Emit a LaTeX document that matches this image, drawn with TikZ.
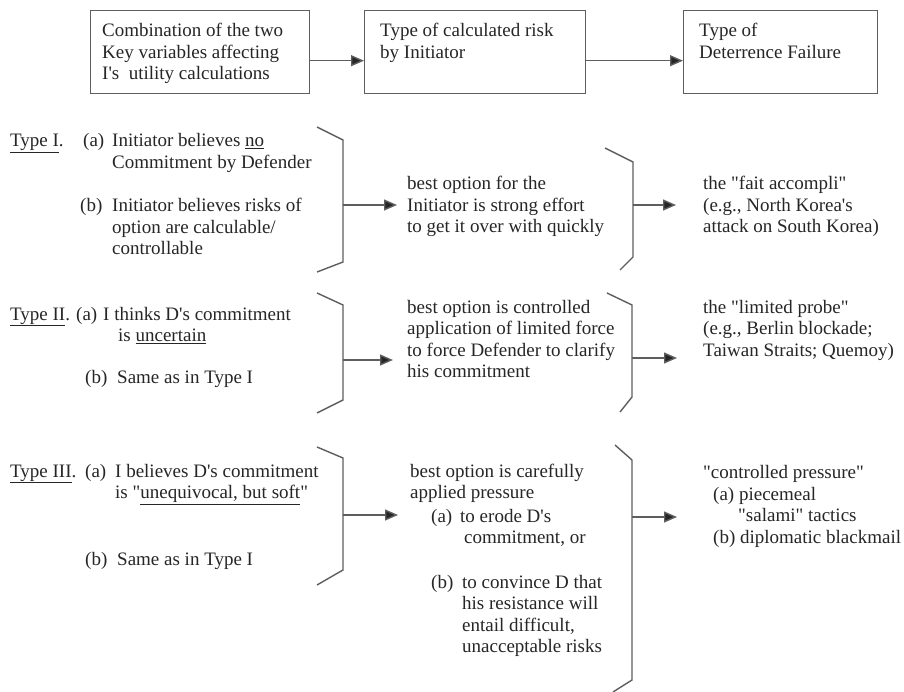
\documentclass[tikz,border=0pt]{standalone}
\usepackage{fontspec}
\setmainfont{Liberation Serif}
\usetikzlibrary{arrows.meta}
\definecolor{ink}{HTML}{262626}
\definecolor{rule}{HTML}{5E5E5E}
\newcommand{\ml}[1]{\begin{tabular}[t]{@{}l@{}}#1\end{tabular}}
\newcommand{\dq}{\textquotedbl}
\newcommand{\ap}{\textquotesingle}
\tikzset{
  txt/.style={anchor=base west, inner sep=0pt, text=ink,
    font=\fontsize{19}{21.5}\selectfont},
  headbox/.style={draw=rule, line width=1.4pt, inner sep=0pt},
  brk/.style={draw=rule, line width=1.4pt},
  flow/.style={draw=rule, line width=1.4pt,
    -{Triangle[length=13pt,width=11pt,fill=ink]}}
}
\begin{document}
\begin{tikzpicture}[x=1pt,y=-1pt]
\path[use as bounding box, fill=white] (0,0) rectangle (904,692);

% header boxes
\node[headbox, minimum width=219pt, minimum height=83pt, anchor=north west] (b1) at (90,10) {};
\node[headbox, minimum width=221pt, minimum height=83pt, anchor=north west] (b2) at (364,10) {};
\node[headbox, minimum width=194pt, minimum height=83pt, anchor=north west] (b3) at (683,10) {};
\node[txt] (h1) at (102,37) {\ml{Combination of the two\\Key variables affecting\\I\ap s\ \ utility calculations}};
\node[txt] (h2) at (380,37) {\ml{Type of calculated risk\\by Initiator}};
\node[txt] (h3) at (699,37) {\ml{Type of\\Deterrence Failure}};
\draw[flow] ([yshift=-8.5pt]b1.east) -- ([yshift=-8.5pt]b2.west);
\draw[flow] ([yshift=-8.5pt]b2.east) -- ([yshift=-8.5pt]b3.west);

% Type I
\node[txt] (t1) at (10,147) {\underline{Type I}.};
\node[txt] (t1a) at (83,147) {(a)};
\node[txt] (t1at) at (112,147) {\ml{Initiator believes \underline{no}\\Commitment by Defender}};
\node[txt] (t1b) at (80,212) {(b)};
\node[txt] (t1bt) at (112,212) {\ml{Initiator believes risks of\\option are calculable/\\controllable}};
\node[txt] (m1) at (407,190) {\ml{best option for the\\Initiator is strong effort\\to get it over with quickly}};
\node[txt] (r1) at (703,190) {\ml{the \dq fait accompli\dq\\(e.g., North Korea\ap s\\attack on South Korea)}};
\draw[brk] (317,127) -- (343,140) -- (343,262) -- (317,272);
\draw[brk] (605,148) -- (633,162) -- (633,257) -- (620,270);
\coordinate (s1l) at (343,205); \coordinate (e1l) at (397,205);
\coordinate (s1r) at (633,205); \coordinate (e1r) at (676,205);
\draw[flow] (s1l) -- (e1l);
\draw[flow] (s1r) -- (e1r);

% Type II
\node[txt] (t2) at (10,320) {\underline{Type II}.};
\node[txt] (t2a) at (76,320) {(a)};
\node[txt] (t2at) at (103,320) {\ml{I thinks D\ap s commitment\\\hspace*{15pt}is \underline{uncertain}}};
\node[txt] (t2b) at (85,383) {(b)};
\node[txt] (t2bt) at (117,383) {Same as in Type I};
\node[txt] (m2) at (407,313) {\ml{best option is controlled\\application of limited force\\to force Defender to clarify\\his commitment}};
\node[txt] (r2) at (703,313) {\ml{the \dq limited probe\dq\\(e.g., Berlin blockade;\\Taiwan Straits; Quemoy)}};
\draw[brk] (317,293) -- (343,305) -- (343,400) -- (317,413);
\draw[brk] (607,293) -- (632,305) -- (632,397) -- (620,412);
\coordinate (s2l) at (343,360); \coordinate (e2l) at (393,360);
\coordinate (s2r) at (632,358); \coordinate (e2r) at (677,358);
\draw[flow] (s2l) -- (e2l);
\draw[flow] (s2r) -- (e2r);

% Type III
\node[txt] (t3) at (10,477) {\underline{Type III}.};
\node[txt] (t3a) at (85,477) {(a)};
\node[txt] (t3at) at (115,477) {\ml{I believes D\ap s commitment\\is \dq\underline{unequivocal, but soft}\dq}};
\node[txt] (t3b) at (85,565) {(b)};
\node[txt] (t3bt) at (117,565) {Same as in Type I};
\node[txt] (m3) at (410,477) {\ml{best option is carefully\\applied pressure}};
\node[txt] (m3a) at (431,522) {(a)};
\node[txt] (m3at) at (460,522) {\ml{to erode D\ap s\\\hspace*{4pt}commitment, or}};
\node[txt] (m3b) at (431,588) {(b)};
\node[txt] (m3bt) at (462,588) {\ml{to convince D that\\his resistance will\\entail difficult,\\unacceptable risks}};
\node[txt] (r3) at (703,478) {\dq controlled pressure\dq};
\node[txt] (r3a) at (713,500) {\ml{(a) piecemeal\\\hspace*{25pt}\dq salami\dq\ tactics\\(b) diplomatic blackmail}};
\draw[brk] (317,447) -- (343,458) -- (343,570) -- (317,585);
\draw[brk] (615,445) -- (632,460) -- (632,680) -- (613,692);
\coordinate (s3l) at (343,515); \coordinate (e3l) at (398,515);
\coordinate (s3r) at (632,517); \coordinate (e3r) at (677,517);
\draw[flow] (s3l) -- (e3l);
\draw[flow] (s3r) -- (e3r);
\end{tikzpicture}
\end{document}
